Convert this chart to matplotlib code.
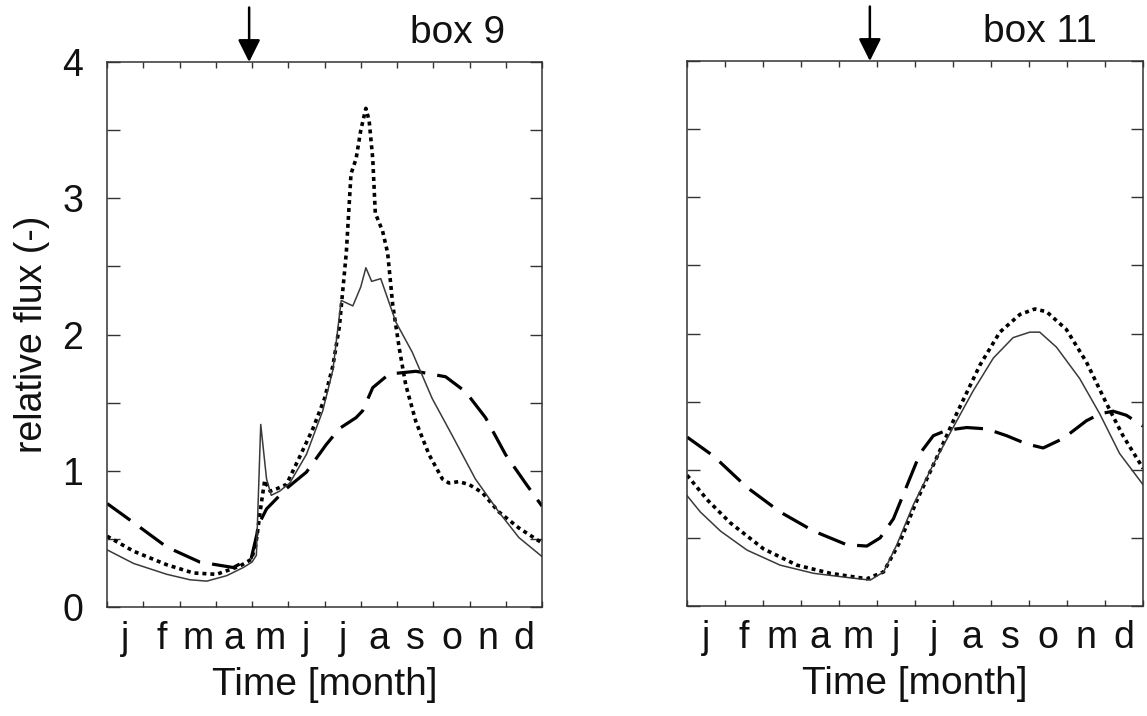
import numpy as np
import matplotlib
matplotlib.use('Agg')
import matplotlib.pyplot as plt
from matplotlib.transforms import blended_transform_factory

plt.rcParams['font.family'] = ['Liberation Sans', 'DejaVu Sans']

months = ['j', 'f', 'm', 'a', 'm', 'j', 'j', 'a', 's', 'o', 'n', 'd']

# box 9 (x in months since 1 January)
b9_solid_t = [0.0, 0.73, 1.65, 2.29, 2.75, 3.3, 3.76, 4.0, 4.12, 4.24, 4.4, 4.53, 4.76, 5.04,
              5.5, 5.95, 6.23, 6.46, 6.78, 7.0, 7.14, 7.3, 7.55, 7.97, 8.42, 8.97, 9.52,
              10.16, 10.8, 11.36, 12.0]
b9_solid = [0.42, 0.32, 0.24, 0.20, 0.19, 0.23, 0.29, 0.33, 0.38, 1.34, 0.94, 0.82, 0.85, 0.91,
            1.12, 1.44, 1.74, 2.25, 2.21, 2.35, 2.49, 2.39, 2.41, 2.09, 1.87, 1.53, 1.26,
            0.94, 0.70, 0.51, 0.37]
b9_dot_t = [0.0, 0.73, 1.65, 2.38, 3.02, 3.66, 3.98, 4.1, 4.25, 4.35, 4.5, 4.7, 4.95, 5.31,
            5.68, 6.0, 6.23, 6.41, 6.6, 6.73, 6.87, 7.0, 7.14, 7.23, 7.33, 7.4, 7.6, 7.74,
            7.88, 8.06, 8.24, 8.52, 8.88, 9.25, 9.43, 9.7, 9.98, 10.35, 10.8, 11.36, 12.0]
b9_dot = [0.52, 0.41, 0.31, 0.25, 0.24, 0.30, 0.35, 0.45, 0.75, 0.93, 0.85, 0.87, 0.90, 1.10,
          1.31, 1.53, 1.77, 2.06, 2.60, 3.18, 3.29, 3.50, 3.66, 3.57, 3.29, 2.89, 2.76, 2.60,
          2.22, 1.90, 1.63, 1.36, 1.12, 0.94, 0.91, 0.92, 0.90, 0.84, 0.70, 0.58, 0.47]
b9_dash_t = [0.0, 0.73, 1.65, 2.56, 3.48, 3.98, 4.21, 4.4, 4.95, 5.5, 6.04, 6.41, 6.87, 7.05,
             7.33, 7.78, 8.52, 9.34, 9.89, 10.44, 10.99, 11.54, 12.0]
b9_dash = [0.76, 0.62, 0.44, 0.33, 0.29, 0.36, 0.62, 0.72, 0.87, 0.99, 1.19, 1.31, 1.39, 1.44,
           1.61, 1.71, 1.73, 1.69, 1.58, 1.39, 1.12, 0.91, 0.74]

# box 11
b11_solid_t = [0.0, 0.35, 0.88, 1.58, 2.45, 3.33, 4.2, 4.82, 5.17, 5.52, 5.95, 6.48, 7.0,
               7.53, 8.06, 8.58, 9.02, 9.28, 9.72, 10.33, 10.86, 11.38, 12.0]
b11_solid = [0.81, 0.69, 0.55, 0.41, 0.30, 0.24, 0.21, 0.19, 0.25, 0.45, 0.74, 1.04, 1.31,
             1.58, 1.82, 1.97, 2.01, 2.01, 1.90, 1.67, 1.41, 1.12, 0.89]
b11_dot_t = [0.0, 0.53, 1.14, 2.01, 2.89, 3.77, 4.73, 5.17, 5.6, 6.04, 6.57, 7.09, 7.71,
             8.23, 8.76, 9.15, 9.46, 9.98, 10.51, 11.03, 11.47, 12.0]
b11_dot = [0.96, 0.78, 0.61, 0.42, 0.30, 0.24, 0.20, 0.25, 0.47, 0.77, 1.09, 1.41, 1.77,
           2.01, 2.14, 2.18, 2.16, 2.03, 1.79, 1.49, 1.25, 1.01]
b11_dash_t = [0.0, 0.7, 1.58, 2.45, 3.33, 4.2, 4.73, 5.08, 5.43, 5.78, 6.13, 6.48, 6.83,
              7.36, 7.88, 8.41, 8.93, 9.37, 9.9, 10.51, 10.86, 11.21, 11.56, 12.0]
b11_dash = [1.24, 1.10, 0.87, 0.69, 0.55, 0.45, 0.44, 0.50, 0.64, 0.88, 1.12, 1.25, 1.29,
            1.31, 1.30, 1.25, 1.19, 1.16, 1.23, 1.36, 1.41, 1.43, 1.40, 1.32]

arrow_month = [3.92, 4.81]
titles = ['box 9', 'box 11']

fig = plt.figure(figsize=(11.47, 7.16), dpi=100)
ax1 = fig.add_axes([0.0933, 0.1522, 0.3793, 0.7612])
ax2 = fig.add_axes([0.599, 0.1536, 0.3976, 0.7612])

panels = [
    (ax1, b9_solid_t, b9_solid, b9_dot_t, b9_dot, b9_dash_t, b9_dash),
    (ax2, b11_solid_t, b11_solid, b11_dot_t, b11_dot, b11_dash_t, b11_dash),
]

for i, (ax, st, sv, dt, dv, gt, gv) in enumerate(panels):
    ax.plot(gt, gv, color='black', lw=2.3, dashes=(9, 3.8), solid_capstyle='butt')
    ax.plot(dt, dv, color='black', lw=2.6, dashes=(1.1, 1.1))
    ax.plot(st, sv, color='#3a3a3a', lw=1.1)

    ax.set_xlim(0, 12)
    ax.set_ylim(0, 4)
    ax.set_xticks(np.arange(0, 13))
    ax.set_xticklabels([])
    ax.set_xticks(np.arange(12) + 0.5, minor=True)
    ax.set_xticklabels(months, minor=True, fontsize=27)
    ax.set_yticks([0, 1, 2, 3, 4])
    ax.set_yticks([0.5, 1.5, 2.5, 3.5], minor=True)
    ax.tick_params(axis='x', which='major', direction='in', length=4.5, width=1,
                   top=True, bottom=True, color='#333333')
    ax.tick_params(axis='x', which='minor', length=0, pad=10, labelcolor='#111111')
    ax.tick_params(axis='y', which='both', direction='in', length=9, width=1,
                   left=True, right=True, color='#333333', labelsize=27, pad=17,
                   labelcolor='#111111')
    if i == 1:
        ax.set_yticklabels([])
    for sp in ax.spines.values():
        sp.set_linewidth(1.1)
        sp.set_color('#333333')
    ax.set_xlabel('Time [month]', fontsize=28, color='#111111', labelpad=7)

    trans = blended_transform_factory(ax.transData, ax.transAxes)
    ax.annotate('', xy=(arrow_month[i], 1.0), xycoords=trans,
                xytext=(arrow_month[i], 1.1), textcoords=trans,
                arrowprops=dict(arrowstyle='-|>', color='black', lw=1.8,
                                mutation_scale=34, shrinkA=0, shrinkB=0))

ax1.text(0.805, 1.053, titles[0], transform=ax1.transAxes, ha='center', va='center',
         fontsize=28, color='#111111')
ax2.text(0.774, 1.053, titles[1], transform=ax2.transAxes, ha='center', va='center',
         fontsize=28, color='#111111')

ax1.set_ylabel('relative flux (-)', fontsize=27, color='#111111', labelpad=9)

fig.savefig('out.png', dpi=100)
